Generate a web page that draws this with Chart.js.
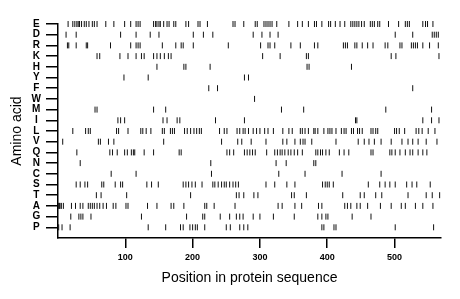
<!DOCTYPE html>
<html>
<head>
<meta charset="utf-8">
<script src="https://cdn.jsdelivr.net/npm/chart.js@4.4.1/dist/chart.umd.min.js"></script>
<style>
  html, body { margin: 0; padding: 0; background: #fff; }
  #wrap { width: 460px; height: 299px; }
</style>
</head>
<body>
<div id="wrap"><canvas id="chart"></canvas></div>
<script>
// Residue positions per amino acid.
// Rows from bottom (P) to top (E).
const AMINO = ['P','G','A','T','S','C','N','Q','V','L','I','M','W','F','Y','H','K','R','D','E'];

const posE = [15,22,25,28,30,32,35,39,42,46,51,54,58,71,83,99,108,116,119,122,142,145,147,150,152,157,162,165,172,175,190,
  194,208,211,222,260,263,276,293,296,306,309,312,315,318,325,343,356,363,372,381,384,392,402,405,412,419,426,435,438,441,
  444,447,451,455,464,467,470,475,478,491,506,516,519,522,542,546,549,557];
const posD = [12,27,93,116,137,150,201,216,230,290,303,315,327,501,527,556,559,562,565];
const posR = [14,16,27,42,44,78,108,116,119,122,155,175,183,186,201,253,301,312,315,322,346,360,381,386,424,427,430,441,
  444,452,460,468,486,490,508,511,525,528,531,534,542,552,565];
const posK = [58,62,92,104,116,124,128,142,147,152,158,164,168,304,330,369,372,495,502,566];
const posH = [147,187,190,226,370,373,436];
const posY = [98,134,277,283];
const posF = [224,237,527];
const posW = [292];
const posM = [55,58,142,160,332,365,487,555];
const posI = [89,93,99,156,162,177,181,234,277,442,444,542,555,566];
const posL = [22,41,45,48,87,90,104,123,126,131,138,155,158,167,170,173,188,192,197,202,206,210,213,240,247,251,266,270,
  275,278,283,290,295,300,307,312,320,334,343,348,360,363,367,372,380,382,386,395,401,404,407,413,421,425,428,436,439,
  445,448,452,465,468,472,475,500,503,507,515,532,536,541,550,560];
const posV = [7,60,63,75,83,157,243,267,273,287,309,334,340,352,360,364,367,377,413,446,455,462,470,480,495,511,520,527,
  535,547,563];
const posQ = [28,77,81,88,99,103,109,112,114,128,142,180,183,251,255,261,277,281,285,289,293,310,322,326,330,333,337,342,
  346,351,356,363,383,386,390,393,398,403,418,425,432,465,468,493,496,501,508,516,523,527,535,542,548];
const posN = [33,227,324,339,380,383];
const posC = [79,116,228,328,367,422,480];
const posS = [27,33,40,44,65,68,85,93,96,132,139,149,186,190,194,199,204,214,230,233,238,243,247,250,255,260,264,268,
  309,322,340,352,393,397,400,403,409,461,478,486,493,501,518,526,533,553];
const posT = [57,64,102,197,265,269,276,291,297,347,351,369,423,449,455,472,481,520,547,556,567];
const posA = [1,2,3,5,8,20,26,33,37,45,48,51,54,58,62,67,72,82,86,101,104,133,147,168,172,187,218,221,232,263,327,333,
  352,362,387,392,426,430,435,444,449,460,479,495,510,516,531,542,557];
const posG = [19,31,34,37,49,124,191,215,218,241,255,265,270,275,290,300,320,351,386,392,398,401,437,465];
const posP = [1,6,18,134,160,182,186,196,200,204,207,218,250,256,270,276,282,392,395,410,413,501,558];

const ROWS = [posP,posG,posA,posT,posS,posC,posN,posQ,posV,posL,posI,posM,posW,posF,posY,posH,posK,posR,posD,posE];
const X_TICKS = [100,200,300,400,500];
const X_MAX = 569;

const points = [];
ROWS.forEach((list, i) => {
  list.forEach(p => points.push({ x: p, y: i + 1 }));
});

const FONT = "'Liberation Sans', Arial, sans-serif";

new Chart(document.getElementById('chart').getContext('2d'), {
  type: 'scatter',
  data: {
    datasets: [{
      data: points,
      pointStyle: 'line',
      rotation: 90,
      radius: 3,
      hoverRadius: 3,
      borderColor: '#111',
      borderWidth: 1,
      clip: false,
    }]
  },
  options: {
    responsive: true,
    maintainAspectRatio: false,
    animation: false,
    devicePixelRatio: 1,
    layout: { padding: { top: 24, right: 19, bottom: 0, left: 0 } },
    plugins: { legend: { display: false }, tooltip: { enabled: false } },
    scales: {
      x: {
        type: 'linear',
        min: 0,
        max: X_MAX,
        afterBuildTicks: s => { s.ticks = X_TICKS.map(v => ({ value: v })); },
        afterFit: s => { s.height = 61; },
        grid: { drawOnChartArea: false, tickLength: 10, color: '#000', lineWidth: 1.5 },
        border: { color: '#000', width: 1.5 },
        ticks: { color: '#000', font: { family: FONT, size: 9, weight: 'bold' }, padding: 4, maxRotation: 0 },
        title: { display: true, text: 'Position in protein sequence', color: '#000',
                 font: { family: FONT, size: 14 }, padding: { top: 0, bottom: 12 } },
      },
      y: {
        type: 'linear',
        min: 0,
        max: 20,
        afterBuildTicks: s => { s.ticks = AMINO.map((a, i) => ({ value: i + 1 })); },
        afterFit: s => { s.width = 58; },
        grid: { drawOnChartArea: false, tickLength: 12, color: '#000', lineWidth: 1.5 },
        border: { color: '#000', width: 1.5 },
        ticks: { color: '#000', font: { family: FONT, size: 10, weight: 'bold' }, padding: 5, crossAlign: 'center',
                 autoSkip: false, callback: v => AMINO[v - 1] },
        title: { display: true, text: 'Amino acid', color: '#000',
                 font: { family: FONT, size: 14 }, padding: { top: 9, bottom: 0 } },
      },
    },
  },
});
</script>
</body>
</html>
